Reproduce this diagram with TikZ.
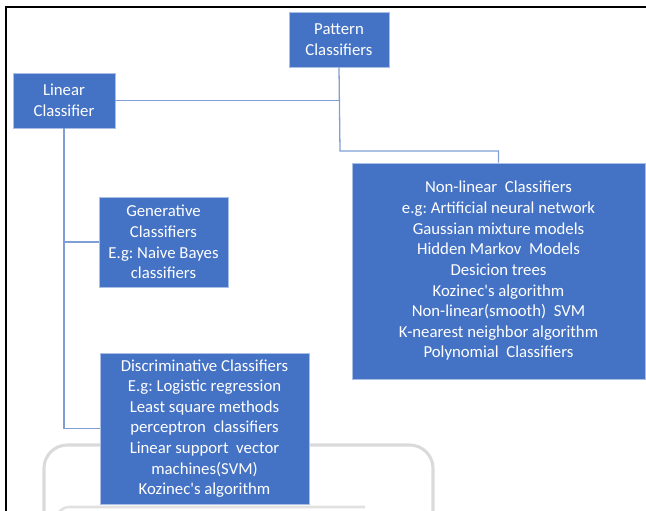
\documentclass[tikz,border=0pt]{standalone}
\usepackage{fontspec}
\setmainfont{Carlito}[Ligatures=TeXOff]
\usepackage{xcolor}
\usepackage{tikz}
\usetikzlibrary{positioning,calc}
\frenchspacing

\definecolor{boxblue}{HTML}{4472C4}
\definecolor{boxedge}{HTML}{A9BFE6}
\definecolor{linkblue}{HTML}{7F9ED6}
\definecolor{markgray}{HTML}{DADADA}

\tikzset{
  clsbox/.style={fill=boxblue, draw=boxedge, line width=0.6pt, text=white,
    align=center, inner sep=0pt, font=\fontsize{14.3}{17.6}\selectfont},
  link/.style={draw=linkblue, line width=1.1pt},
}

\begin{document}
\begin{tikzpicture}[x=0.03cm, y=-0.03cm]
        \useasboundingbox (0,0) rectangle (646,511);
        % faint frame in the background
        \draw[markgray, line width=2.6pt, rounded corners=0.7cm] (44,540) -- (44,445) -- (433,445) -- (433,540);
        \draw[markgray!80, line width=2.2pt, rounded corners=0.4cm] (56,540) -- (56,507) -- (365,507);
        % outer border
        \draw[black, line width=1.3pt] (6,511) -- (6,7) -- (646,7);

        % Boxes
        \node[clsbox, minimum width=3cm, minimum height=1.65cm] (pattern) at (339,39.5) {Pattern\\Classifiers};
        \node[clsbox, minimum width=3.06cm, minimum height=1.65cm] (linear) at (64,100.5) {Linear\\Classifier};
        \node[clsbox, minimum width=3.87cm, minimum height=2.7cm] (gener) at (163.5,242) {Generative\\Classifiers\\E.g: Naive Bayes\\classifiers};
        \node[clsbox, minimum width=6.27cm, minimum height=4.53cm] (discr) at (204.5,428.5) {Discriminative Classifiers\\E.g: Logistic regression\\Least square methods\\perceptron~ classifiers\\Linear support~ vector\\machines(SVM)\\Kozinec's algorithm};
        \node[clsbox, minimum width=8.79cm, minimum height=6.48cm] (nonlin) at (498.5,271) {Non-linear~ Classifiers\\e.g: Artificial neural network\\Gaussian mixture models\\Hidden Markov~ Models\\Desicion trees\\Kozinec's algorithm\\Non-linear(smooth)~ SVM\\K-nearest neighbor algorithm\\Polynomial~ Classifiers};

        % Links
        \coordinate (split) at (340,151);
        \draw[link] (linear.east) -- (linear.east -| pattern.south);
        \draw[link] (pattern.south) -- (split) -| (nonlin.north);
        \draw[link] (linear.south) |- (gener.west);
        \draw[link] (linear.south) |- (discr.west);
    \end{tikzpicture}
\end{document}
